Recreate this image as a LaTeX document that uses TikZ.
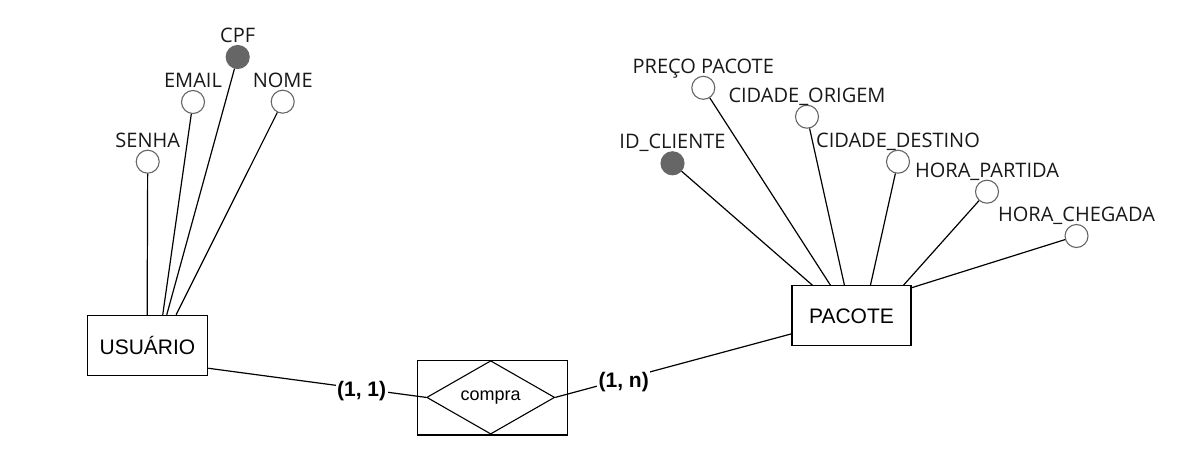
\documentclass[tikz,border=0pt]{standalone}
\usepackage{fontspec}
\setmainfont{Open Sans}
\newfontfamily\arialf{Liberation Sans}
\usetikzlibrary{shapes.geometric}
\begin{document}
\begin{tikzpicture}[x=1pt,y=-1pt,
  attr/.style={circle, draw=black!60, line width=1.1pt, fill=white, minimum size=23pt, inner sep=0pt},
  keyattr/.style={attr, fill=black!60},
  lbl/.style={font=\fontsize{20}{24}\selectfont, text=black!90, inner sep=0pt, anchor=base},
  ent/.style={draw, line width=1.1pt, font=\arialf\fontsize{21}{25}\selectfont, inner sep=0pt},
  conn/.style={line width=1.2pt},
  card/.style={font=\arialf\bfseries\fontsize{21}{25}\selectfont, fill=white, inner sep=1.5pt}
]
\useasboundingbox (0,0) rectangle (1201,473);
\fill[white] (0,0) rectangle (1201,473);

% entities
\node[ent, minimum width=120.4pt, minimum height=60.4pt] (usuario) at (147.5,345.5) {USUÁRIO};
\node[ent, minimum width=119pt, minimum height=60pt] (pacote) at (851.5,315.8) {PACOTE};
\node[draw, line width=1.1pt, minimum width=150pt, minimum height=74.3pt, inner sep=0pt] (relbox) at (492.3,397.8) {};
\node[diamond, draw, line width=1.1pt, minimum width=128pt, minimum height=67pt, inner sep=0pt, font=\arialf\fontsize{18}{22}\selectfont] (compra) at (490.7,397.4) {compra};

% attributes of USUARIO
\node[keyattr] (cpf) at (237.7,57) {};
\node[attr] (email) at (193,102) {};
\node[attr] (nome) at (282.7,101.7) {};
\node[attr] (senha) at (147.7,161.7) {};
\node[lbl] (cpfL) at ([yshift=2.5pt]cpf.north) {CPF};
\node[lbl] (emailL) at ([yshift=2.5pt]email.north) {EMAIL};
\node[lbl] (nomeL) at ([yshift=2.5pt]nome.north) {NOME};
\node[lbl] (senhaL) at ([yshift=2.5pt]senha.north) {SENHA};

% attributes of PACOTE
\node[attr] (preco) at (703.3,87.8) {};
\node[attr] (corig) at (807,116.7) {};
\node[keyattr] (idc) at (672.5,163.3) {};
\node[attr] (cdest) at (898,161.7) {};
\node[attr] (hpart) at (987,191.7) {};
\node[attr] (hcheg) at (1076.5,236) {};
\node[lbl] (precoL) at ([yshift=2.5pt]preco.north) {PREÇO PACOTE};
\node[lbl] (corigL) at ([yshift=2.5pt]corig.north) {CIDADE\_ORIGEM};
\node[lbl] (idcL) at ([yshift=2.5pt]idc.north) {ID\_CLIENTE};
\node[lbl] (cdestL) at ([yshift=2.5pt]cdest.north) {CIDADE\_DESTINO};
\node[lbl] (hpartL) at ([yshift=2.5pt]hpart.north) {HORA\_PARTIDA};
\node[lbl] (hchegL) at ([yshift=2.5pt]hcheg.north) {HORA\_CHEGADA};

% attribute connectors
\draw[conn] (senha) -- ([xshift=60.4pt]usuario.north west);
\draw[conn] (email) -- ([xshift=76pt]usuario.north west);
\draw[conn] (cpf) -- ([xshift=80pt]usuario.north west);
\draw[conn] (nome) -- ([xshift=89.4pt]usuario.north west);

\draw[conn] (idc) -- ([xshift=21pt]pacote.north west);
\draw[conn] (preco) -- ([xshift=39pt]pacote.north west);
\draw[conn] (corig) -- ([xshift=53pt]pacote.north west);
\draw[conn] (cdest) -- ([xshift=79pt]pacote.north west);
\draw[conn] (hpart) -- ([xshift=112pt]pacote.north west);
\draw[conn] (hcheg) -- ([yshift=-2.5pt]pacote.north east);

% relationship connectors
\draw[conn] ([yshift=8pt]usuario.south east) -- node[card, pos=0.704, yshift=-2pt] (c11) {(1, 1)} (compra.west);
\draw[conn] (compra.east) -- node[card, pos=0.29, yshift=-3.5pt] (c1n) {(1, n)} ([yshift=12.5pt]pacote.south west);
\end{tikzpicture}
\end{document}
